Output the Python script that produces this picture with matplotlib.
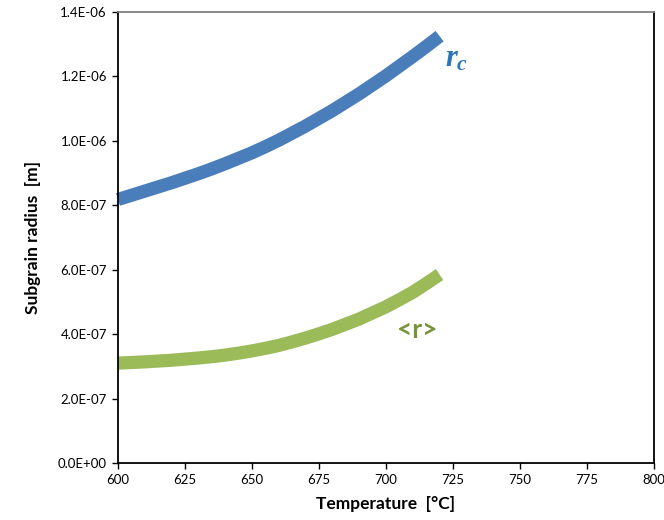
import numpy as np
from matplotlib import pyplot as plt
from matplotlib.ticker import FuncFormatter, MultipleLocator

plt.rcParams['font.family'] = ['Lato', 'DejaVu Sans']
plt.rcParams['mathtext.fontset'] = 'custom'
plt.rcParams['mathtext.it'] = 'Liberation Serif:italic:bold'
plt.rcParams['mathtext.rm'] = 'Liberation Serif:bold'

# temperature [°C]
temperature = [600, 605, 610, 615, 620, 625, 630, 635, 640, 645, 650, 655, 660,
               665, 670, 675, 680, 685, 690, 695, 700, 705, 710, 715, 720]
# critical subgrain radius r_c [µm]
r_crit = [0.818, 0.831, 0.844, 0.857, 0.870, 0.884, 0.898, 0.913, 0.929, 0.946,
          0.963, 0.982, 1.002, 1.024, 1.046, 1.070, 1.094, 1.120, 1.146, 1.174,
          1.202, 1.232, 1.262, 1.293, 1.325]
# mean subgrain radius <r> [µm]
r_mean = [0.310, 0.312, 0.314, 0.3165, 0.319, 0.3225, 0.326, 0.330, 0.335, 0.341,
          0.348, 0.356, 0.365, 0.376, 0.388, 0.401, 0.415, 0.431, 0.447, 0.466,
          0.485, 0.507, 0.530, 0.557, 0.585]

fig = plt.figure(figsize=(6.64, 5.20), dpi=100)
ax = fig.add_axes([118 / 664, 1 - 463 / 520, 536 / 664, 451 / 520])

ax.plot(temperature, np.array(r_crit) * 1e-6, color="#4A7EBB", linewidth=9.5,
        solid_capstyle='butt', solid_joinstyle='round', clip_on=False)
ax.plot(temperature, np.array(r_mean) * 1e-6, color="#9BBB59", linewidth=9.5,
        solid_capstyle='butt', solid_joinstyle='round', clip_on=False)

ax.annotate(r"$r_c$", xy=(722, 1.21e-6), color="#2E75B6", fontsize=22,
            ha='left', va='bottom')
ax.annotate("<r>", xy=(704, 0.375e-6), color="#77933C", fontsize=19, fontweight='bold',
            ha='left', va='bottom')

ax.set_xlim(600, 800)
ax.set_ylim(0, 1.4e-6)
ax.xaxis.set_major_locator(MultipleLocator(25))
ax.yaxis.set_major_locator(MultipleLocator(2e-7))
ax.yaxis.set_major_formatter(FuncFormatter(lambda v, p: f"{v:.1E}"))

ax.tick_params(direction='out', length=4, width=1, labelsize=9.5, colors='black', pad=4)
for s in ['left', 'bottom', 'right']:
    ax.spines[s].set_linewidth(1.3)
    ax.spines[s].set_color('black')
ax.spines['top'].set_color('#808080')
ax.spines['top'].set_linewidth(1.3)

ax.set_xlabel("Temperature  [°C]", fontsize=12.5, fontweight='bold', labelpad=7)
ax.set_ylabel("Subgrain radius  [m]", fontsize=12.5, fontweight='bold', labelpad=12)

plt.savefig("out.png", dpi=100)
